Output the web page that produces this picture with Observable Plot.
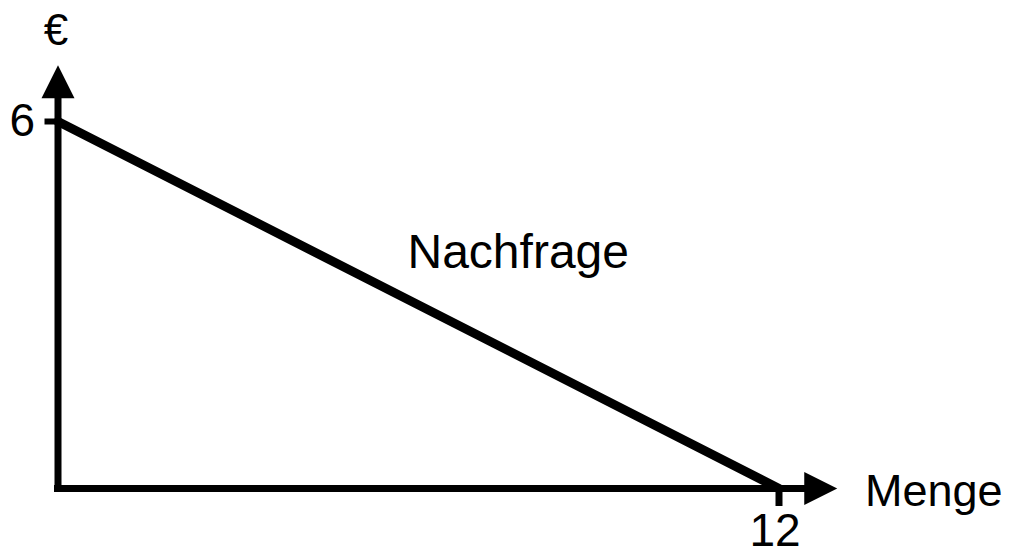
<!DOCTYPE html>
<html>
<head>
<meta charset="utf-8">
<script src="https://cdn.jsdelivr.net/npm/d3@7"></script>
<script src="https://cdn.jsdelivr.net/npm/@observablehq/plot@0.6"></script>
<style>
  html, body { margin: 0; padding: 0; background: #fff; }
  #chart { width: 1018px; height: 549px; }
</style>
</head>
<body>
<div id="chart"></div>
<script>
// ---- data ----
const quantity = [0, 12];          // Menge
const price = [6, 0];              // €
const xTicks = [12];
const yTicks = [6];
const xLabel = "Menge";
const yLabel = "€";
const curveLabel = "Nachfrage";
// axis extents (in data units) where the arrow heads start
const axisEndX = 12.42;
const axisEndY = 6.38;

const demand = quantity.map((q, i) => ({q, p: price[i]}));

// filled arrow head pointing up, base at the anchor point
const arrowHead = {
  draw(ctx) {
    ctx.moveTo(0, -33);
    ctx.lineTo(16.5, 0);
    ctx.lineTo(-16.5, 0);
    ctx.closePath();
  }
};

const tickFont = 46;

const chart = Plot.plot({
  width: 1018,
  height: 549,
  marginLeft: 57.5,
  marginRight: 239.5,
  marginTop: 121,
  marginBottom: 61,
  x: {domain: [0, 12]},
  y: {domain: [0, 6]},
  style: {fontFamily: "Liberation Sans, Arial, sans-serif", fontSize: "44px", color: "black", background: "white"},
  marks: [
    // axis lines
    Plot.ruleY([0], {x1: 0, x2: axisEndX, stroke: "black", strokeWidth: 7, strokeLinecap: "square"}),
    Plot.ruleX([0], {y1: 0, y2: axisEndY, stroke: "black", strokeWidth: 7, strokeLinecap: "square"}),
    // arrow heads
    Plot.dot([0], {x: 0, y: axisEndY, symbol: arrowHead, fill: "black", stroke: null}),
    Plot.dot([0], {x: axisEndX, y: 0, symbol: arrowHead, fill: "black", stroke: null, rotate: 90}),
    // ticks
    Plot.axisX({ticks: xTicks, tickSize: 18, strokeWidth: 7, fill: "none", label: null}),
    Plot.axisY({ticks: yTicks, tickSize: 13, strokeWidth: 6, fill: "none", label: null}),
    // tick labels
    Plot.axisX({ticks: xTicks, tickSize: 18, tickPadding: 7, stroke: "none", fontSize: tickFont, dx: -4, label: null, tickFormat: d => String(d)}),
    Plot.axisY({ticks: yTicks, tickSize: 13, tickPadding: 10, stroke: "none", fontSize: tickFont, label: null, tickFormat: d => String(d)}),
    // demand curve
    Plot.line(demand, {x: "q", y: "p", stroke: "black", strokeWidth: 9}),
    // labels
    Plot.text([yLabel], {x: 0, y: 6, text: d => d, dy: -91, dx: -2, fontSize: 44, textAnchor: "middle", fill: "black"}),
    Plot.text([xLabel], {x: 12, y: 0, text: d => d, dx: 86, dy: 3, fontSize: 45, textAnchor: "start", fill: "black"}),
    Plot.text([curveLabel], {x: 6, y: 3, text: d => d, dx: -11, dy: -52, fontSize: 48, textAnchor: "start", fill: "black"})
  ]
});

document.getElementById("chart").appendChild(chart);
</script>
</body>
</html>
